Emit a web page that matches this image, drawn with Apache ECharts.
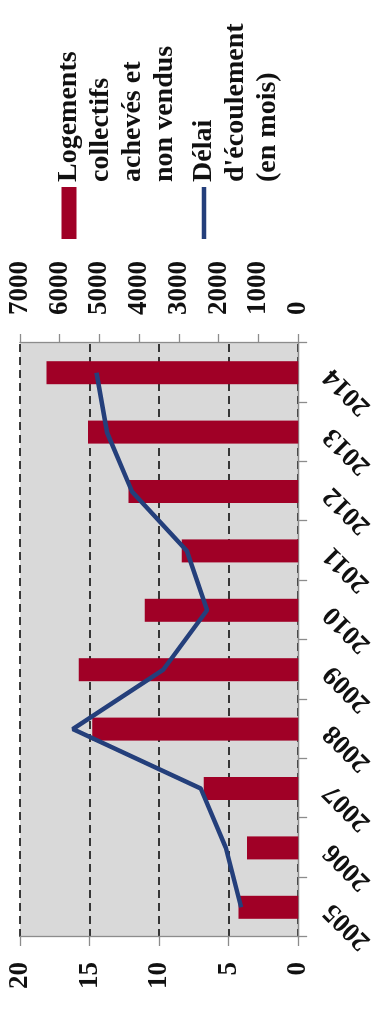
<!DOCTYPE html>
<html>
<head>
<meta charset="utf-8">
<script src="https://cdn.jsdelivr.net/npm/echarts@6/dist/echarts.min.js"></script>
<style>
  html, body { margin: 0; padding: 0; width: 378px; height: 1015px; overflow: hidden; background: #fff; }
  #chart {
    position: absolute; left: 0; top: 0;
    width: 1015px; height: 378px;
    transform-origin: 0 0;
    transform: translateY(1015px) rotate(-90deg);
  }
</style>
</head>
<body>
<div id="chart"></div>
<script>
const years = ['2005', '2006', '2007', '2008', '2009', '2010', '2011', '2012', '2013', '2014'];
const logements = [1500, 1290, 2375, 5180, 5520, 3860, 2930, 4270, 5290, 6330];
const delai = [4.1, 5.2, 7.0, 16.2, 9.7, 6.55, 8.0, 11.95, 13.75, 14.5];
const seriesNames = ['Logements collectifs achevés et non vendus', "Délai d'écoulement (en mois)"];
const legendLabels = ['Logements\ncollectifs\nachevés et\nnon vendus', "Délai\nd'écoulement\n(en mois)"];
const leftAxis = { min: 0, max: 20, interval: 5 };
const rightAxis = { min: 0, max: 7000, interval: 1000 };

const FONT = "'Liberation Serif', 'DejaVu Serif', serif";
const axisText = { fontFamily: FONT, fontWeight: 'bold', fontSize: 27, color: '#111' };
const axisLineStyle = { color: '#8c8c8c', width: 1.3 };

const chart = echarts.init(document.getElementById('chart'), null, { renderer: 'canvas' });

const legendText = {
  fontFamily: FONT, fontWeight: 'bold', fontSize: 28, lineHeight: 32, color: '#111'
};

const option = {
  animation: false,
  grid: {
    left: 78, right: 343, top: 20, bottom: 78,
    show: true, backgroundColor: '#d9d9d9', borderWidth: 0
  },
  legend: [
    {
      data: [seriesNames[0]],
      orient: 'vertical', left: 776, top: 53, padding: 0,
      itemWidth: 52, itemHeight: 128,
      icon: 'path://M0,8.5H52V23.5H0Z M0,0h0.01v0.01h-0.01Z M51.99,127.99h0.01v0.01h-0.01Z',
      itemStyle: { borderWidth: 0 },
      textStyle: legendText,
      formatter: () => legendLabels[0]
    },
    {
      data: [seriesNames[1]],
      orient: 'vertical', left: 776, top: 188, padding: 0,
      itemWidth: 52, itemHeight: 96,
      icon: 'path://M0,13.75H52V18.25H0Z M0,0h0.01v0.01h-0.01Z M51.99,95.99h0.01v0.01h-0.01Z',
      itemStyle: { borderWidth: 0 },
      textStyle: legendText,
      formatter: () => legendLabels[1]
    }
  ],
  xAxis: {
    type: 'category',
    data: years,
    position: 'bottom',
    axisLine: { lineStyle: axisLineStyle },
    axisTick: { show: true, length: 9, lineStyle: axisLineStyle },
    axisLabel: Object.assign({ rotate: 45, margin: 30, interval: 0 }, axisText),
    splitLine: { show: false }
  },
  yAxis: [
    {
      type: 'value',
      position: 'left',
      min: leftAxis.min, max: leftAxis.max, interval: leftAxis.interval,
      axisLine: { show: true, lineStyle: axisLineStyle },
      axisTick: { show: true, length: 9, lineStyle: axisLineStyle },
      axisLabel: Object.assign({ margin: 25, formatter: v => String(v) }, axisText),
      splitLine: { show: true, lineStyle: { color: '#000', width: 1.6, type: [8, 5] } }
    },
    {
      type: 'value',
      position: 'right',
      min: rightAxis.min, max: rightAxis.max, interval: rightAxis.interval,
      axisLine: { show: true, lineStyle: axisLineStyle },
      axisTick: { show: true, length: 9, lineStyle: axisLineStyle },
      axisLabel: Object.assign({ margin: 28, formatter: v => String(v) }, axisText),
      splitLine: { show: false }
    }
  ],
  series: [
    {
      name: seriesNames[0],
      type: 'bar',
      yAxisIndex: 1,
      data: logements,
      barWidth: 23,
      itemStyle: { color: '#a00026' }
    },
    {
      name: seriesNames[1],
      type: 'line',
      yAxisIndex: 0,
      data: delai,
      showSymbol: false,
      symbol: 'none',
      lineStyle: { color: '#243f7b', width: 4.5 },
      itemStyle: { color: '#243f7b' }
    }
  ]
};
chart.setOption(option);
</script>
</body>
</html>
